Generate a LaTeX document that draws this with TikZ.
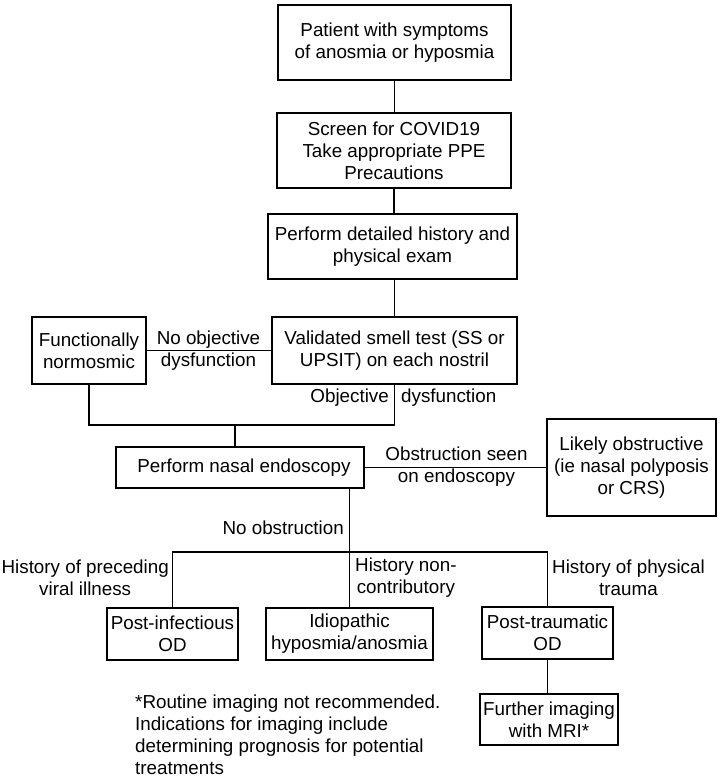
\documentclass[tikz,border=0pt]{standalone}
\usepackage{fontspec}
\setmainfont{Liberation Sans}
\begin{document}
\begin{tikzpicture}[x=1pt,y=-1pt,
  box/.style={draw, line width=1.8pt, align=center, inner sep=0pt, font=\fontsize{18.8}{22}\selectfont},
  lbl/.style={align=center, inner sep=0pt, font=\fontsize{18.8}{22}\selectfont},
  conn/.style={line width=1.8pt}]
\useasboundingbox (0,0) rectangle (720,778);
% boxes
\node[box, minimum width=233pt, minimum height=75pt] (b1) at (394.5,42.5) {Patient with symptoms\\of anosmia or hyposmia};
\node[box, minimum width=234pt, minimum height=75pt] (b2) at (394,150.5) {Screen for COVID19\\Take appropriate PPE\\Precautions};
\node[box, minimum width=249pt, minimum height=65pt] (b3) at (392.5,246.5) {Perform detailed history and\\physical exam};
\node[box, minimum width=114pt, minimum height=67pt] (fn) at (89,350.5) {Functionally\\normosmic};
\node[box, minimum width=245pt, minimum height=67pt] (st) at (394.5,350.5) {Validated smell test (SS or\\UPSIT) on each nostril};
\node[box, minimum width=248pt, minimum height=41pt] (en) at (240,467.5) {\hspace{8pt}Perform nasal endoscopy};
\node[box, minimum width=169pt, minimum height=97pt] (lo) at (631.5,467.5) {Likely obstructive\\(ie nasal polyposis\\or CRS)};
\node[box, minimum width=131pt, minimum height=52pt] (pi) at (172.5,634) {Post-infectious\\OD};
\node[box, minimum width=167pt, minimum height=52pt] (id) at (349.5,634) {Idiopathic\\hyposmia/anosmia};
\node[box, minimum width=131pt, minimum height=52pt] (pt) at (547.5,633) {Post-traumatic\\OD};
\node[box, minimum width=138pt, minimum height=51pt] (mr) at (549,719.5) {Further imaging\\with MRI*};
% labels
\node[lbl] (l1) at (208.5,351) {No objective\\dysfunction};
\node[lbl, anchor=east] (l2) at (389,398) {Objective};
\node[lbl, anchor=west] (l3) at (401,398) {dysfunction};
\node[lbl] (l4) at (456.5,467) {Obstruction seen\\on endoscopy};
\node[lbl, anchor=east] (l5) at (344,528) {No obstruction};
\node[lbl, anchor=east] (l6) at (169,578) {History of preceding\\viral illness};
\node[lbl, anchor=west] (l7) at (355,578) {History non-\\contributory};
\node[lbl, anchor=west] (l8) at (552,578) {History of physical\\trauma};
\node[lbl, align=left, anchor=west] (fnote) at (135,735) {*Routine imaging not recommended.\\Indications for imaging include\\determining prognosis for potential\\treatments};
% connectors
\coordinate (j1) at (235,425);
\coordinate (j2) at (349.5,552);
\draw[conn] (b1.south) -- (b1.south |- b2.north);
\draw[conn] (b2.south) -- (b2.south |- b3.north);
\draw[conn] (st.north |- b3.south) -- (st.north);
\draw[conn] (fn.east) -- (st.west);
\draw[conn] (fn.south) |- (j1) -| (st.south);
\draw[conn] (j1) -- (j1 |- en.north);
\draw[conn] (en.east) -- (lo.west);
\draw[conn] (j2 |- en.south) -- (id.north);
\draw[conn] (pi.north) -- (pi.north |- j2) -- (pt.north |- j2) -- (pt.north);
\draw[conn] (pt.south) -- (pt.south |- mr.north);
\end{tikzpicture}
\end{document}
